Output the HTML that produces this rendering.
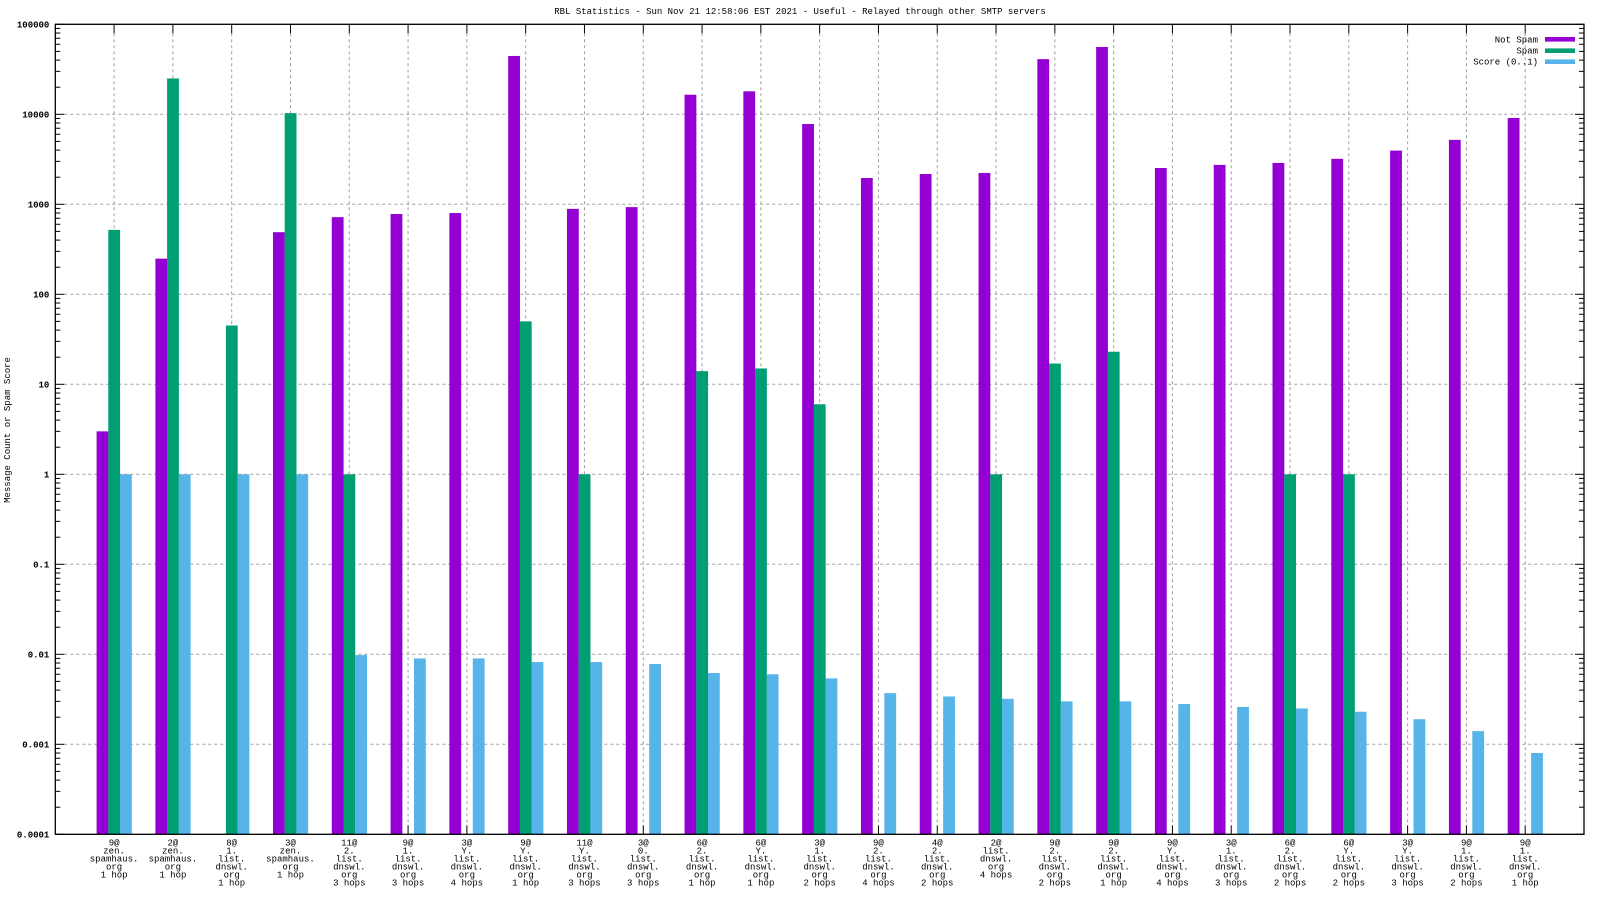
<!DOCTYPE html>
<html><head><meta charset="utf-8"><style>
html,body{margin:0;padding:0;background:#fff;}
svg text{font-family:"Liberation Mono","DejaVu Sans Mono",monospace;font-size:9px;fill:#000;}
</style></head><body>
<svg id="c" width="1600" height="900" xmlns="http://www.w3.org/2000/svg"></svg>
<script>
const L=55.3,R=1584,T=24.3,B=834.3,D=90;
const X=u=>L+(u+1)*(R-L)/26;
const Y=v=>T+(5-Math.log10(v))*D;
const data=[
[3,520,1,"9@|zen.|spamhaus.|org|1 hop"],
[249,25000,1,"2@|zen.|spamhaus.|org|1 hop"],
[0,45,1,"8@|1.|list.|dnswl.|org|1 hop"],
[490,10300,1,"3@|zen.|spamhaus.|org|1 hop"],
[720,1,0.0098,"11@|2.|list.|dnswl.|org|3 hops"],
[780,0,0.009,"9@|1.|list.|dnswl.|org|3 hops"],
[800,0,0.009,"3@|Y.|list.|dnswl.|org|4 hops"],
[44500,50,0.0082,"9@|Y.|list.|dnswl.|org|1 hop"],
[890,1,0.0082,"11@|Y.|list.|dnswl.|org|3 hops"],
[930,0,0.0078,"3@|0.|list.|dnswl.|org|3 hops"],
[16500,14,0.0062,"6@|2.|list.|dnswl.|org|1 hop"],
[18000,15,0.006,"6@|Y.|list.|dnswl.|org|1 hop"],
[7800,6,0.0054,"3@|1.|list.|dnswl.|org|2 hops"],
[1960,0,0.0037,"9@|2.|list.|dnswl.|org|4 hops"],
[2170,0,0.0034,"4@|2.|list.|dnswl.|org|2 hops"],
[2230,1,0.0032,"2@|list.|dnswl.|org|4 hops"],
[41000,17,0.003,"9@|2.|list.|dnswl.|org|2 hops"],
[56000,23,0.003,"9@|2.|list.|dnswl.|org|1 hop"],
[2530,0,0.0028,"9@|Y.|list.|dnswl.|org|4 hops"],
[2740,0,0.0026,"3@|1.|list.|dnswl.|org|3 hops"],
[2880,1,0.0025,"6@|2.|list.|dnswl.|org|2 hops"],
[3200,1,0.0023,"6@|Y.|list.|dnswl.|org|2 hops"],
[3950,0,0.0019,"3@|Y.|list.|dnswl.|org|3 hops"],
[5200,0,0.0014,"9@|1.|list.|dnswl.|org|2 hops"],
[9100,0,0.0008,"9@|1.|list.|dnswl.|org|1 hop"]];
let s='';
const G='stroke="#a0a0a0" stroke-width="1" stroke-dasharray="3,3"';
const labs=["100000","10000","1000","100","10","1","0.1","0.01","0.001","0.0001"];
for(let i=0;i<10;i++){const y=T+i*D;
 if(i>0&&i<9) s+=`<line x1="${L+9}" y1="${y}" x2="${R-9}" y2="${y}" ${G}/>`;
 s+=`<line x1="${L}" y1="${y}" x2="${L+9}" y2="${y}" stroke="#000"/><line x1="${R}" y1="${y}" x2="${R-9}" y2="${y}" stroke="#000"/>`;
 s+=`<text x="${L-6}" y="${y+3}" text-anchor="end" font-weight="bold">${labs[i]}</text>`;
 if(i<9) for(let k=2;k<10;k++){const yy=y+D-Math.log10(k)*D;
  s+=`<line x1="${L}" y1="${yy}" x2="${L+5}" y2="${yy}" stroke="#000"/><line x1="${R}" y1="${yy}" x2="${R-5}" y2="${yy}" stroke="#000"/>`;}
}
const cols=["#9400d3","#009e73","#56b4e9"];
data.forEach((d,i)=>{const c=X(i);
 s+=`<line x1="${c}" y1="${T+9}" x2="${c}" y2="${B-9}" ${G}/>`;
 s+=`<line x1="${c}" y1="${T}" x2="${c}" y2="${T+9}" stroke="#000"/><line x1="${c}" y1="${B}" x2="${c}" y2="${B-9}" stroke="#000"/>`;
});
data.forEach((d,i)=>{const c=X(i);
 const off=[-17.5,-5.8,5.9];
 for(let j=0;j<3;j++){if(d[j]>0){const y=Y(d[j]);s+=`<rect x="${c+off[j]}" y="${y}" width="11.8" height="${B-y}" fill="${cols[j]}"/>`;}}
 d[3].split('|').forEach((t,k)=>{s+=`<text x="${c}" y="${B+11+k*8}" text-anchor="middle">${t}</text>`;});
});
s+=`<rect x="${L}" y="${T}" width="${R-L}" height="${B-T}" fill="none" stroke="#000" stroke-width="1.3"/>`;
s+=`<text x="800" y="14" text-anchor="middle">RBL Statistics - Sun Nov 21 12:58:06 EST 2021 - Useful - Relayed through other SMTP servers</text>`;
s+=`<text transform="translate(10,430) rotate(-90)" text-anchor="middle">Message Count or Spam Score</text>`;
const lg=["Not Spam","Spam","Score (0..1)"],ly=[39.3,50.7,61.7];
for(let j=0;j<3;j++){s+=`<text x="1538" y="${ly[j]+3}" text-anchor="end">${lg[j]}</text><rect x="1545" y="${ly[j]-2.3}" width="30" height="4.6" fill="${cols[j]}"/>`;}
document.getElementById('c').innerHTML=s;
</script>
</body></html>
